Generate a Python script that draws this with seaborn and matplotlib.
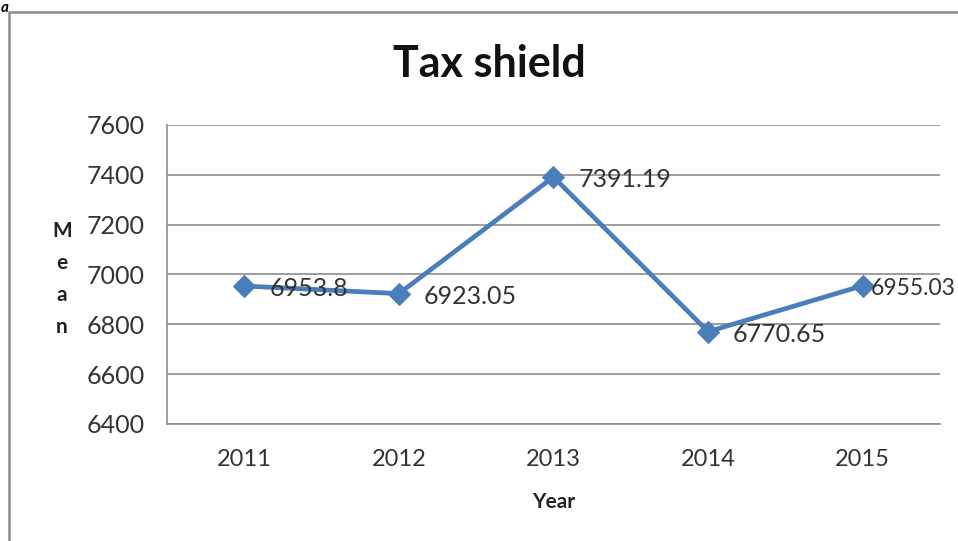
import matplotlib
matplotlib.use("Agg")
import matplotlib.pyplot as plt
import seaborn as sns
import pandas as pd
from matplotlib.patches import Rectangle

years = ["2011", "2012", "2013", "2014", "2015"]
means = [6953.8, 6923.05, 7391.19, 6770.65, 6955.03]
labels = ["6953.8", "6923.05", "7391.19", "6770.65", "6955.03"]
yticks = [6400, 6600, 6800, 7000, 7200, 7400, 7600]

sns.set_style("white")
plt.rcParams['font.family'] = ['Lato', 'DejaVu Sans']

fig = plt.figure(figsize=(9.58, 5.41), dpi=100)
ax = fig.add_axes([0.1743, 0.2163, 0.8069, 0.5527])

df = pd.DataFrame({"Year": list(range(len(years))), "Mean": means})
sns.lineplot(data=df, x="Year", y="Mean", ax=ax, color="#4A7EBB", linewidth=3.4,
             marker="D", markersize=11, markeredgecolor="#4A7EBB", zorder=3)

ax.set_xlim(-0.5, len(years) - 0.5)
ax.set_ylim(yticks[0], yticks[-1])
ax.set_yticks(yticks)
ax.set_xticks(range(len(years)))
ax.set_xticklabels(years)
ax.set_xticks([i - 0.5 for i in range(len(years) + 1)], minor=True)
ax.tick_params(axis="x", which="major", length=0, pad=18, labelsize=17, labelcolor="#333333")
ax.tick_params(axis="x", which="minor", length=6, direction="out", color="#8c8c8c", width=1)
ax.tick_params(axis="y", length=7, direction="out", color="#8c8c8c", width=1, pad=9,
               labelsize=18, labelcolor="#333333")
ax.grid(axis="y", color="#8c8c8c", linewidth=1.2)
ax.grid(axis="x", visible=False)
for s in ["top", "right"]:
    ax.spines[s].set_visible(False)
for s in ["left", "bottom"]:
    ax.spines[s].set_color("#8c8c8c")
    ax.spines[s].set_linewidth(1.2)

# label offsets (points); the last one is pulled in to stay inside the figure
offsets = [18, 18, 18, 18, 6]
sizes = [18, 18, 18, 18, 16.5]
for i, (v, t) in enumerate(zip(means, labels)):
    ax.annotate(t, (i, v), xytext=(offsets[i], -2), textcoords="offset points",
                ha="left", va="center", fontsize=sizes[i], color="#333333",
                annotation_clip=False)

ax.set_xlabel("Year", fontsize=15, fontweight="bold", labelpad=16, color="#222222")
ax.set_ylabel("")
fig.text(62 / 958, 1 - 279 / 541, "M\ne\na\nn", ha="center", va="center", fontsize=15,
         fontweight="bold", linespacing=1.75, color="#222222")

fig.text(489 / 958, 1 - 64 / 541, "Tax shield", ha="center", va="center", fontsize=31,
         fontweight="bold", color="#111111")

fig.patches.append(Rectangle((9 / 958, -0.2), 1.2, 1 - 12 / 541 + 0.2, transform=fig.transFigure,
                             fill=False, edgecolor="#8c8c8c", linewidth=1.8))
fig.text(0.001, 0.999, "a", ha="left", va="top", fontsize=11, fontweight="bold",
         style="italic", color="black")

fig.savefig("out.png", dpi=100)
